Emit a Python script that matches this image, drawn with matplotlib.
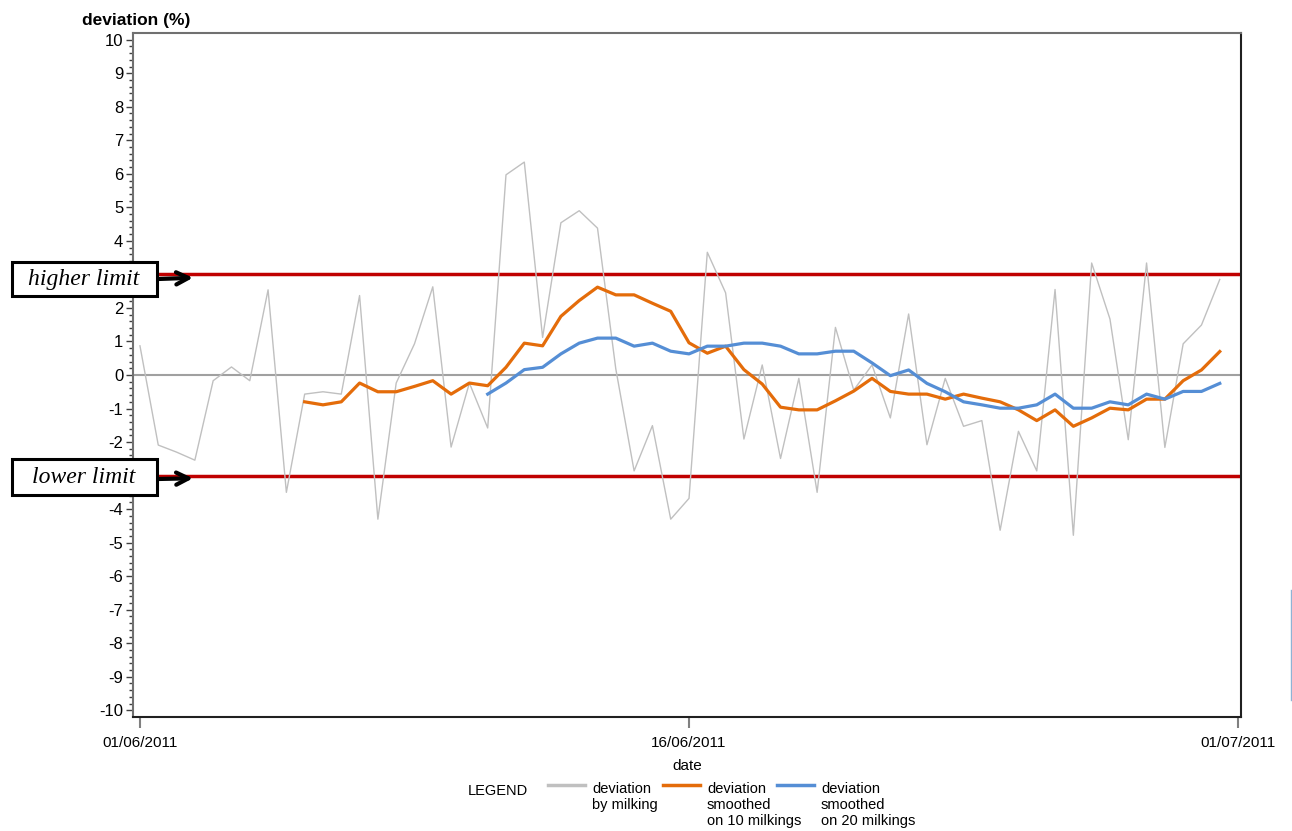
import numpy as np
import matplotlib
matplotlib.use('Agg')
import matplotlib.pyplot as plt
from matplotlib.lines import Line2D
from matplotlib.patches import Rectangle

plt.rcParams['font.family'] = ['Liberation Sans', 'DejaVu Sans']
plt.rcParams['axes.unicode_minus'] = False

# two milkings a day, starting 01/06/2011
milking_day = np.arange(60) * 0.5

deviation_by_milking = [
    0.87, -2.09, -2.3, -2.54, -0.17, 0.24, -0.17, 2.54, -3.5, -0.57,
    -0.5, -0.57, 2.37, -4.3, -0.24, 0.93, 2.63, -2.15, -0.24, -1.58,
    5.97, 6.35, 1.12, 4.54, 4.9, 4.38, 0.18, -2.86, -1.51, -4.3,
    -3.68, 3.66, 2.45, -1.91, 0.3, -2.49, -0.1, -3.5, 1.42, -0.45,
    0.3, -1.28, 1.82, -2.08, -0.1, -1.53, -1.36, -4.63, -1.68, -2.86,
    2.55, -4.78, 3.34, 1.67, -1.93, 3.34, -2.16, 0.93, 1.49, 2.85]

# smoothed on 10 milkings, first value at milking 9
smoothed_10 = [
    -0.8, -0.89, -0.8, -0.24, -0.5, -0.5, -0.34, -0.17, -0.57, -0.24, -0.32,
    0.23, 0.95, 0.87, 1.75, 2.22, 2.62, 2.39, 2.39, 2.14, 1.9,
    0.96, 0.65, 0.86, 0.16, -0.27, -0.96, -1.04, -1.04, -0.77, -0.48,
    -0.1, -0.49, -0.57, -0.57, -0.72, -0.57, -0.69, -0.8, -1.04, -1.36,
    -1.04, -1.53, -1.28, -0.99, -1.04, -0.72, -0.72, -0.17, 0.15, 0.7]

# smoothed on 20 milkings, first value at milking 19
smoothed_20 = [
    -0.57,
    -0.24, 0.16, 0.23, 0.63, 0.95, 1.1, 1.1, 0.86, 0.95, 0.71,
    0.63, 0.86, 0.86, 0.95, 0.95, 0.86, 0.63, 0.63, 0.71, 0.71,
    0.36, -0.02, 0.15, -0.25, -0.5, -0.8, -0.89, -0.99, -0.99, -0.89,
    -0.57, -0.99, -0.99, -0.8, -0.89, -0.57, -0.72, -0.49, -0.49, -0.25]

higher_limit = 3
lower_limit = -3

date_ticks = [0, 15, 30]
date_labels = ['01/06/2011', '16/06/2011', '01/07/2011']
y_ticks = list(range(-10, 11))
# labels 3 and -3 sit under the limit boxes
y_labels = ['' if abs(v) == 3 else str(v) for v in y_ticks]

gray_col = '#c0c0c0'
orange_col = '#e46c0a'
blue_col = '#558ed5'
red_col = '#c00000'

fig = plt.figure(figsize=(12.92, 8.31), dpi=100)
W, H = 1292, 831
ax = fig.add_axes([133 / W, 1 - 717 / H, (1241 - 133) / W, (717 - 33) / H])

ax.axhline(0, color='#a0a0a0', lw=1.5, zorder=1)
ax.axhline(higher_limit, color=red_col, lw=2.5, zorder=2)
ax.axhline(lower_limit, color=red_col, lw=2.5, zorder=2)

ax.plot(milking_day, deviation_by_milking, color=gray_col, lw=1, zorder=3)
ax.plot(milking_day[9:], smoothed_10, color=orange_col, lw=2.3, zorder=4)
ax.plot(milking_day[19:], smoothed_20, color=blue_col, lw=2.3, zorder=5)

ax.set_xlim(-0.19, 30.08)
ax.set_ylim(-10.2, 10.2)

ax.set_yticks(y_ticks)
ax.set_yticklabels(y_labels)
ax.set_yticks(np.arange(-10, 10.01, 0.2), minor=True)
ax.set_xticks(date_ticks)
ax.set_xticklabels(date_labels)
ax.tick_params(axis='y', which='major', length=5, width=1, color='#404040', labelsize=12, pad=2)
ax.tick_params(axis='y', which='minor', length=3, width=1, color='#404040')
ax.tick_params(axis='x', which='major', length=8, width=1.5, color='#808080', labelsize=11, pad=6)

for s in ['left', 'top']:
    ax.spines[s].set_color('#707070')
    ax.spines[s].set_linewidth(1.5)
for s in ['bottom', 'right']:
    ax.spines[s].set_color('#202020')
    ax.spines[s].set_linewidth(1.5)

fig.text(82 / W, 1 - 21 / H, 'deviation (%)', fontsize=12.5, fontweight='bold', va='center', ha='left')
ax.set_xlabel('date', fontsize=11, labelpad=6)

# limit annotations: box, text and arrow
serif = ['Liberation Serif', 'DejaVu Serif']
arrow = dict(arrowstyle='->', lw=3, color='black', mutation_scale=22, shrinkA=0, shrinkB=0)
for label, top, bottom, arrow_y, tip_y in [('higher limit', 262, 296, 279, 2.9),
                                          ('lower limit', 459, 495, 479, -3.08)]:
    fig.add_artist(Rectangle((12 / W, 1 - bottom / H), (157 - 12) / W, (bottom - top) / H,
                             transform=fig.transFigure, fc='white', ec='black', lw=2.2, zorder=10))
    fig.text(84 / W, 1 - (top + bottom) / 2 / H, label, fontsize=17, style='italic',
             family=serif, ha='center', va='center', zorder=11)
    ax.annotate('', xy=(1.45, tip_y), xytext=(158 / W, 1 - arrow_y / H),
                textcoords='figure fraction', arrowprops=arrow, annotation_clip=False, zorder=10)

# legend drawn by hand below the axis
ly = 1 - 785 / H
fig.text(468 / W, 1 - 791 / H, 'LEGEND', fontsize=10.5, va='center', ha='left')
entries = [(548, gray_col, 'deviation\nby milking'),
           (663, orange_col, 'deviation\nsmoothed\non 10 milkings'),
           (777, blue_col, 'deviation\nsmoothed\non 20 milkings')]
for x0, col, lab in entries:
    fig.add_artist(Line2D([x0 / W, (x0 + 37) / W], [ly, ly], color=col, lw=2.5,
                          transform=fig.transFigure))
    fig.text((x0 + 44) / W, 1 - 782 / H, lab, fontsize=10.5, va='top', ha='left', linespacing=1.2)

# small stray mark on the right edge
fig.add_artist(Line2D([1291 / W, 1291 / W], [1 - 590 / H, 1 - 700 / H], color='#8fb3d5', lw=1,
                      transform=fig.transFigure))

plt.savefig('out.png', dpi=100)
